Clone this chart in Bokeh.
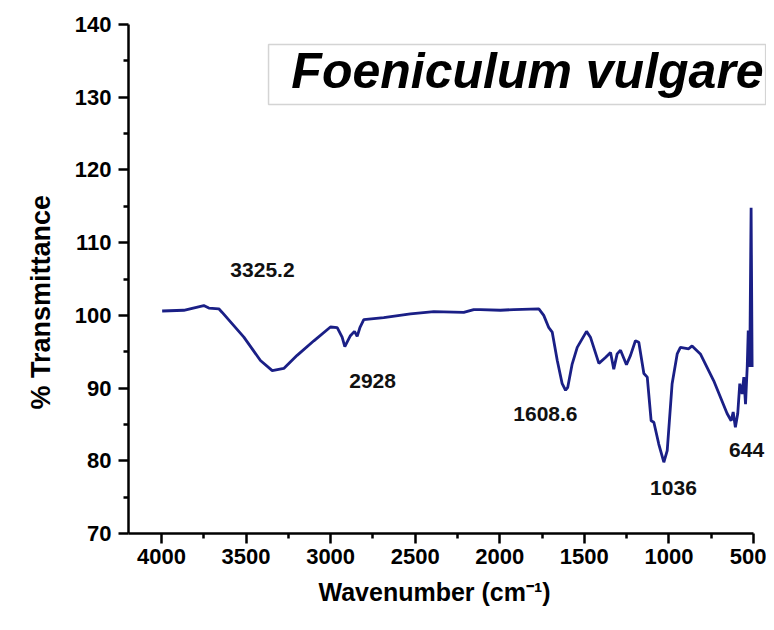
import math
from bokeh.plotting import figure
from bokeh.models import Range1d, FixedTicker, Label, BoxAnnotation, ColumnDataSource, Title
from bokeh.embed import file_html
from bokeh.resources import INLINE

# ---- data ----
wavenumber = [3996, 3868, 3750, 3720, 3661, 3641, 3513, 3415, 3345, 3277, 3198, 3099,
              3001, 2961, 2932, 2916, 2883, 2859, 2843, 2827, 2804, 2686, 2528, 2390,
              2213, 2154, 2114, 1996, 1917, 1769, 1740, 1710, 1690, 1660, 1631, 1611,
              1598, 1572, 1542, 1487, 1464, 1414, 1375, 1345, 1326, 1306, 1286, 1251,
              1227, 1198, 1178, 1148, 1128, 1105, 1089, 1060, 1030, 1010, 981, 951,
              932, 883, 863, 814, 735, 656, 632, 620, 607, 593, 581, 567, 557, 547,
              537, 531, 522, 514, 508]
transmittance = [100.6, 100.7, 101.35, 101.0, 100.9, 100.4, 97.0, 93.8, 92.4, 92.7, 94.5, 96.5,
                 98.4, 98.3, 97.0, 95.7, 97.2, 97.8, 97.1, 98.3, 99.4, 99.7, 100.2, 100.5,
                 100.4, 100.8, 100.8, 100.7, 100.8, 100.9, 100.0, 98.3, 97.7, 93.8, 90.6, 89.7,
                 90.1, 93.3, 95.6, 97.8, 97.0, 93.4, 94.2, 94.9, 92.6, 94.7, 95.2, 93.2,
                 94.5, 96.5, 96.3, 92.0, 91.5, 85.5, 85.3, 82.3, 79.8, 81.4, 90.6, 94.7,
                 95.6, 95.4, 95.8, 94.7, 91.0, 86.5, 85.5, 86.7, 84.6, 86.5, 90.6, 89.2, 91.5, 87.8,
                 92.9, 97.9, 92.9, 114.8, 92.9]

peak_texts = ["3325.2", "2928", "1608.6", "1036", "644"]
x_ticks = [4000, 3500, 3000, 2500, 2000, 1500, 1000, 500]
x_minor = [3750, 3250, 2750, 2250, 1750, 1250, 750]
y_ticks = [70, 80, 90, 100, 110, 120, 130, 140]
y_minor = [75, 85, 95, 105, 115, 125, 135]
title_text = "Foeniculum vulgare"
x_title = "Wavenumber (cm\u207b\u00b9)"
y_title = "% Transmittance"

# ---- layout (positions of annotations, in data units) ----
peak_pos = [(3403, 106.3), (2752, 91.0), (1730, 86.4), (973, 76.2), (541, 81.5)]

FONT = "Liberation Sans"

p = figure(width=766, height=614, output_backend="svg", toolbar_location=None,
           x_range=Range1d(4195, 423), y_range=Range1d(70, 140),
           min_border_left=128, min_border_right=0, min_border_top=24,
           min_border_bottom=81)
p.outline_line_color = None
p.xgrid.visible = False
p.ygrid.visible = False
p.background_fill_color = "white"
p.border_fill_color = "white"

src = ColumnDataSource(dict(x=wavenumber, y=transmittance))
p.line("x", "y", source=src, line_color="#1a1f86", line_width=2.8)

for ax in (p.xaxis[0], p.yaxis[0]):
    ax.axis_line_width = 2.5
    ax.axis_line_color = "black"
    ax.major_tick_line_width = 2.5
    ax.minor_tick_line_width = 2.5
    ax.major_tick_line_color = "black"
    ax.minor_tick_line_color = "black"
    ax.major_tick_in = 0
    ax.major_tick_out = 10
    ax.minor_tick_in = 0
    ax.minor_tick_out = 5
    ax.major_label_text_font = FONT
    ax.major_label_text_font_style = "bold"
    ax.major_label_text_font_size = "22px"
    ax.major_label_text_color = "black"

p.xaxis[0].ticker = FixedTicker(ticks=x_ticks, minor_ticks=x_minor)
p.xaxis[0].bounds = (500, 4195)
p.xaxis[0].major_label_standoff = 5
p.yaxis[0].ticker = FixedTicker(ticks=y_ticks, minor_ticks=y_minor)
p.yaxis[0].major_label_standoff = 7

# axis titles as offsettable titles
p.add_layout(Title(text=x_title, align="left", offset=190, standoff=18,
                   text_font=FONT, text_font_style="bold", text_font_size="25px",
                   text_color="black"), "below")
p.add_layout(Title(text=y_title, align="left", offset=124, standoff=31,
                   text_font=FONT, text_font_style="bold", text_font_size="27px",
                   text_color="black"), "left")

# title box
p.add_layout(BoxAnnotation(left=3367, right=428, top=137.25, bottom=129.0,
                           fill_color="white", fill_alpha=1.0,
                           line_color="#707070", line_width=1.5))
p.add_layout(Label(x=1836, y=133.67, text=title_text, text_font=FONT,
                   text_font_style="bold italic", text_font_size="50px",
                   text_align="center", text_baseline="middle", text_color="black"))

# peak labels
for t, (px, py) in zip(peak_texts, peak_pos):
    p.add_layout(Label(x=px, y=py, text=t, text_font=FONT, text_font_style="bold",
                       text_font_size="21px", text_align="center",
                       text_baseline="middle", text_color="#111111"))

open("out.html", "w").write(file_html(p, INLINE))
